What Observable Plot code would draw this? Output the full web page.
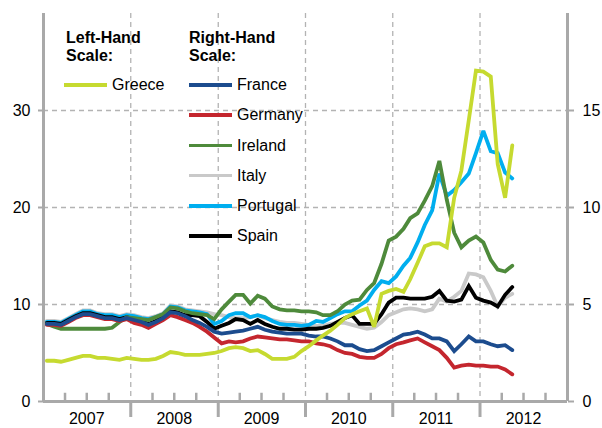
<!DOCTYPE html>
<html>
<head>
<meta charset="utf-8">
<script src="https://cdn.jsdelivr.net/npm/d3@7"></script>
<script src="https://cdn.jsdelivr.net/npm/@observablehq/plot@0.6"></script>
<style>
  html, body { margin: 0; padding: 0; background: #fff; }
  #wrap { position: relative; width: 602px; height: 428px; font-family: "Liberation Sans", Arial, sans-serif; color: #000; }
  #wrap svg { position: absolute; left: 0; top: 0; }
  .lg { position: absolute; font-size: 16px; line-height: 18px; white-space: nowrap; }
  .hd { font-weight: bold; line-height: 18.3px; }
  .sw { position: absolute; height: 3.8px; }
</style>
</head>
<body>
<div id="wrap"></div>
<script>
// Monthly data, Jan 2007 – May 2012
const startYear = 2007;
const yearLabels = ["2007", "2008", "2009", "2010", "2011", "2012"];
const leftTicks = [0, 10, 20, 30];
const rightTicks = [0, 5, 10, 15];

// Left-hand scale (percent)
const greece = [
  4.2,4.2,4.1,4.3,4.5,4.7,4.7,4.5,4.5,4.4,4.3,4.5,
  4.4,4.3,4.3,4.4,4.7,5.1,5.0,4.8,4.8,4.8,4.9,5.0,
  5.2,5.5,5.6,5.5,5.2,5.3,4.9,4.4,4.4,4.4,4.6,5.2,
  5.7,6.3,6.8,7.3,7.9,8.6,9.0,9.3,9.6,7.7,11.1,11.4,
  11.6,11.3,12.6,14.3,16.0,16.3,16.3,15.9,21.0,23.8,29.0,34.1,
  34.0,33.5,24.5,21.0,26.4
];
// Right-hand scale (percent)
const france = [
  4.0,4.0,3.95,4.15,4.35,4.5,4.5,4.4,4.3,4.3,4.2,4.3,
  4.2,4.1,3.95,4.1,4.3,4.6,4.55,4.4,4.2,4.05,3.85,3.6,
  3.5,3.55,3.6,3.65,3.75,3.85,3.7,3.6,3.55,3.5,3.5,3.5,
  3.4,3.35,3.35,3.25,3.1,2.9,2.9,2.7,2.6,2.65,2.85,3.05,
  3.25,3.45,3.5,3.6,3.45,3.25,3.25,3.1,2.6,2.95,3.35,3.1,
  3.1,2.95,2.85,2.9,2.65
];
const germany = [
  3.95,3.95,3.9,4.1,4.3,4.45,4.45,4.35,4.25,4.25,4.15,4.25,
  4.05,3.95,3.8,4.0,4.2,4.45,4.35,4.2,4.05,3.85,3.6,3.3,
  3.0,3.1,3.05,3.1,3.25,3.35,3.3,3.25,3.2,3.2,3.15,3.1,
  3.1,3.0,2.95,2.85,2.65,2.5,2.45,2.3,2.25,2.25,2.45,2.75,
  2.95,3.05,3.15,3.25,3.05,2.85,2.65,2.25,1.75,1.85,1.9,1.85,
  1.85,1.8,1.8,1.65,1.4
];
const ireland = [
  4.0,3.85,3.75,3.75,3.75,3.75,3.75,3.75,3.75,3.8,4.1,4.35,
  4.3,4.25,4.2,4.35,4.5,4.85,4.8,4.65,4.55,4.5,4.45,4.25,
  4.75,5.15,5.5,5.5,5.05,5.45,5.3,4.9,4.75,4.7,4.7,4.65,
  4.65,4.6,4.45,4.45,4.65,5.0,5.2,5.25,5.75,6.1,7.1,8.3,
  8.5,8.9,9.45,9.7,10.35,11.1,12.4,10.4,8.7,7.95,8.3,8.5,
  8.2,7.3,6.8,6.7,7.0
];
const italy = [
  4.15,4.15,4.1,4.3,4.5,4.7,4.7,4.55,4.5,4.5,4.4,4.5,
  4.45,4.35,4.3,4.4,4.55,4.95,4.9,4.75,4.7,4.65,4.6,4.5,
  4.45,4.35,4.3,4.3,4.35,4.45,4.3,4.2,4.1,4.05,4.05,4.0,
  3.95,3.9,3.9,4.0,4.05,4.05,3.95,3.85,3.75,3.8,4.1,4.45,
  4.6,4.75,4.8,4.75,4.65,4.75,5.3,5.15,5.4,5.7,6.6,6.55,
  6.4,5.7,4.9,5.35,5.55
];
const portugal = [
  4.1,4.1,4.05,4.25,4.45,4.65,4.65,4.5,4.45,4.45,4.35,4.45,
  4.4,4.3,4.25,4.35,4.5,4.9,4.85,4.7,4.65,4.6,4.5,4.0,
  4.15,4.45,4.55,4.55,4.35,4.45,4.35,4.15,4.0,3.95,3.95,3.9,
  3.95,4.15,4.1,4.3,4.5,4.65,4.65,4.95,5.2,5.75,6.2,6.1,
  6.45,7.0,7.4,8.2,9.1,9.85,11.75,10.6,10.9,11.3,11.75,12.8,
  13.95,12.9,12.8,11.8,11.5
];
const spain = [
  4.05,4.05,4.0,4.2,4.4,4.55,4.55,4.45,4.35,4.35,4.25,4.35,
  4.25,4.15,4.0,4.15,4.35,4.65,4.6,4.45,4.45,4.4,4.1,3.75,
  3.9,4.05,4.25,4.2,4.0,4.2,4.0,3.85,3.75,3.75,3.7,3.7,
  3.75,3.75,3.8,3.9,4.1,4.3,4.45,4.0,4.0,4.0,4.5,5.1,
  5.35,5.35,5.3,5.3,5.3,5.4,5.7,5.2,5.15,5.25,5.95,5.35,
  5.2,5.1,4.9,5.5,5.9
];

const seriesNames = ["Italy", "Portugal", "Spain", "Ireland", "Germany", "France", "Greece"];
const seriesValues = [italy, portugal, spain, ireland, germany, france, greece];
const seriesOnLeft = [false, false, false, false, false, false, true];
const seriesColors = ["#c9c9c9", "#00aeef", "#000000", "#4e8a3b", "#c4262e", "#1c4c8e", "#c6da30"];

const rows = [];
seriesNames.forEach((name, s) => {
  seriesValues[s].forEach((v, i) => {
    rows.push({country: name, date: new Date(Date.UTC(startYear, i, 15)), v: seriesOnLeft[s] ? v : v * 2});
  });
});

const yearStarts = d3.range(startYear, startYear + 7).map(y => new Date(Date.UTC(y, 0, 1)));
const yearInner = yearStarts.slice(1, -1);
const yearMids = yearLabels.map(y => new Date(Date.UTC(+y, 6, 1)));
const quarters = [];
yearLabels.forEach(y => [3, 6, 9].forEach(m => quarters.push(new Date(Date.UTC(+y, m, 1)))));

const grid = "#b3b3b3";
const axisC = "#a9a9a9";

const chart = Plot.plot({
  width: 602,
  height: 428,
  marginLeft: 43,
  marginRight: 35,
  marginTop: 13,
  marginBottom: 27,
  style: {fontFamily: "'Liberation Sans', Arial, sans-serif", fontSize: "16px", color: "#000", background: "transparent"},
  x: {type: "utc", domain: [yearStarts[0], yearStarts[yearStarts.length - 1]]},
  y: {domain: [0, 40]},
  color: {domain: seriesNames, range: seriesColors},
  marks: [
    Plot.ruleY(leftTicks.slice(1), {stroke: grid, strokeWidth: 1.3, strokeDasharray: "5,4"}),
    Plot.ruleX(yearInner, {stroke: grid, strokeWidth: 1.3, strokeDasharray: "5,4"}),
    Plot.lineY(rows, {x: "date", y: "v", z: "country", stroke: "country", strokeWidth: 3.8, strokeLinejoin: "miter", strokeMiterlimit: 3}),
    Plot.ruleX(quarters, {y1: 0, y2: 0.85, stroke: axisC, strokeWidth: 2.5}),
    Plot.axisY({ticks: leftTicks, tickSize: 5, tickPadding: 8, stroke: axisC, strokeWidth: 2, label: null}),
    Plot.axisY({anchor: "right", ticks: leftTicks, tickSize: 6, tickPadding: 9, stroke: axisC, strokeWidth: 2, label: null,
      tickFormat: (d, i) => String(rightTicks[i])}),
    Plot.axisX({ticks: yearInner, tickSize: 16, stroke: axisC, strokeWidth: 3, tickFormat: () => "", label: null}),
    Plot.axisX({ticks: yearMids, tickSize: 0, tickPadding: 11, tickFormat: (d, i) => yearLabels[i], label: null}),
    Plot.ruleY([0], {stroke: axisC, strokeWidth: 3}),
    Plot.ruleX([yearStarts[0], yearStarts[yearStarts.length - 1]], {stroke: axisC, strokeWidth: 3})
  ]
});

const wrap = document.getElementById("wrap");
wrap.appendChild(chart);

// Legend (HTML overlay)
function add(cls, text, left, top, extra) {
  const d = document.createElement("div");
  d.className = cls;
  if (text != null) d.innerHTML = text;
  d.style.left = left + "px";
  d.style.top = top + "px";
  if (extra) Object.assign(d.style, extra);
  wrap.appendChild(d);
  return d;
}
add("lg hd", "Left-Hand<br>Scale:", 66, 28.5);
add("lg hd", "Right-Hand<br>Scale:", 189, 28.5);
const legendLeft = ["Greece"];
const legendRight = ["France", "Germany", "Ireland", "Italy", "Portugal", "Spain"];
const colorOf = n => seriesColors[seriesNames.indexOf(n)];
legendLeft.forEach((n, i) => {
  const cy = 85;
  add("sw", null, 64, cy - 1.9, {width: "43px", background: colorOf(n)});
  add("lg", n, 112, cy - 8.75);
});
legendRight.forEach((n, i) => {
  const cy = 85 + i * 30.2;
  add("sw", null, 189, cy - 1.9, {width: "43px", background: colorOf(n)});
  add("lg", n, 237, cy - 8.75);
});
</script>
</body>
</html>
